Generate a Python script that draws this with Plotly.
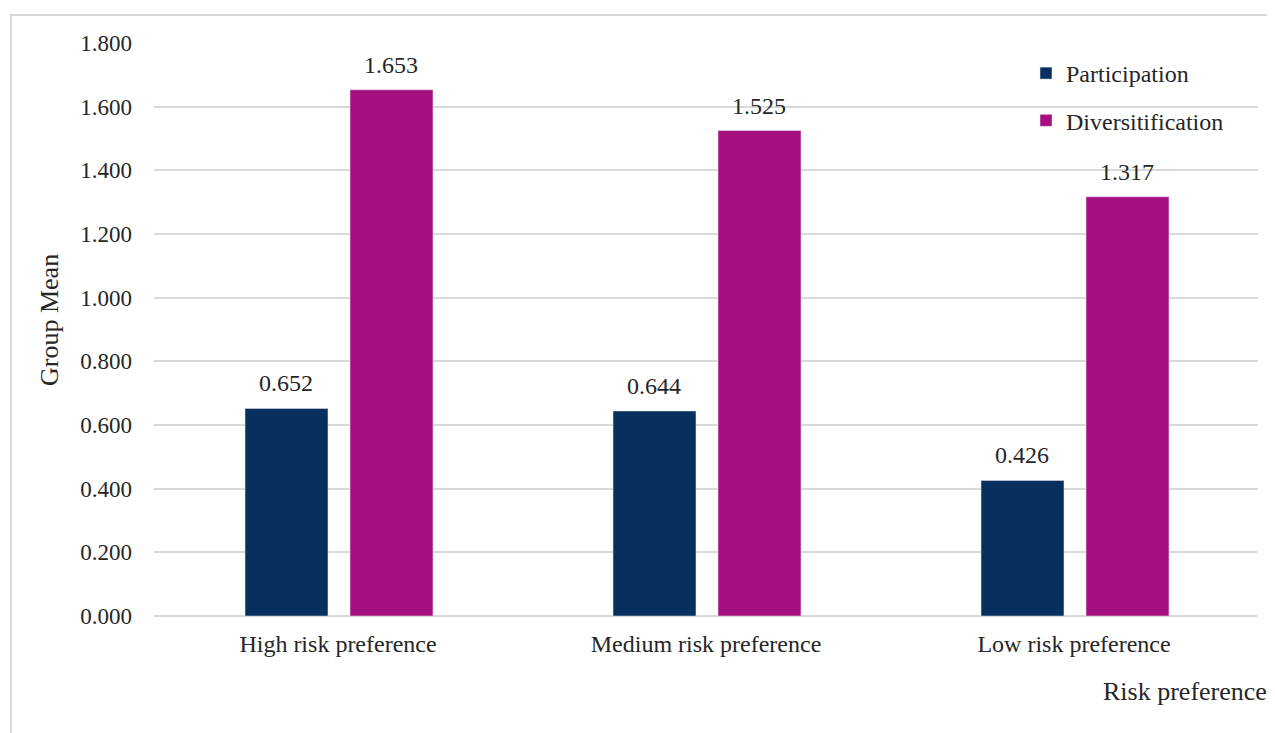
import plotly.graph_objects as go

categories = ["High risk preference", "Medium risk preference", "Low risk preference"]
participation = [0.652, 0.644, 0.426]
diversification = [1.653, 1.525, 1.317]
series_names = ["Participation", "Diversitification"]
y_ticks = [0, 0.2, 0.4, 0.6, 0.8, 1.0, 1.2, 1.4, 1.6, 1.8]

FONT = "Liberation Serif, Times New Roman, serif"
TXT = "#262626"
C1 = "#08305f"
C2 = "#a50f80"

# page body adds an 8px margin; figure sized to compensate
W, H = 1267, 725
L, R, T, B = 146, 17, 35, 117
pw = W - L - R
ph = H - T - B

BW = 0.2255
OFF1, OFF2 = -0.2527, 0.0326

fig = go.Figure()
fig.add_trace(go.Bar(
    x=categories, y=participation, name=series_names[0],
    marker_color=C1, width=BW, offset=OFF1, legendgroup="a",
))
fig.add_trace(go.Bar(
    x=categories, y=diversification, name=series_names[1],
    marker_color=C2, width=BW, offset=OFF2, legendgroup="b",
))

annotations = []
px_per_unit = pw / 3.0
for vals, off in ((participation, OFF1), (diversification, OFF2)):
    for c, v in zip(categories, vals):
        annotations.append(dict(
            x=c, y=v, xref="x", yref="y", text=f"{v:.3f}", showarrow=False,
            xshift=(off + BW / 2) * px_per_unit, yshift=25,
            xanchor="center", yanchor="middle",
            font=dict(size=24, color=TXT, family=FONT),
        ))

annotations += [
    dict(text="Group Mean", xref="paper", yref="paper",
         x=(41 - L) / pw, y=(608 - 312) / ph, textangle=-90, showarrow=False,
         font=dict(size=26), xanchor="center", yanchor="middle"),
    dict(text="Risk preference", xref="paper", yref="paper",
         x=(1177 - L) / pw, y=(608 - 683) / ph, showarrow=False,
         font=dict(size=26), xanchor="center", yanchor="middle"),
]

fig.update_layout(
    width=W, height=H,
    margin=dict(l=L, r=R, t=T, b=B, autoexpand=False),
    paper_bgcolor="white", plot_bgcolor="white",
    font=dict(family=FONT, size=24, color=TXT),
    showlegend=True,
    legend=dict(x=(1018 - L) / pw, y=(608 - 43) / ph, xanchor="left", yanchor="top",
                bgcolor="rgba(0,0,0,0)", font=dict(size=24, color=TXT),
                tracegroupgap=13, traceorder="grouped", itemwidth=30),
    xaxis=dict(type="category", range=[-0.5, 2.5], showgrid=False, showline=False,
               ticks="", ticklabelstandoff=11, tickfont=dict(size=24)),
    yaxis=dict(range=[0, 1.8], tickvals=y_ticks, tickformat=".3f",
               showgrid=True, gridcolor="#d9d9d9", gridwidth=1.5,
               zeroline=True, zerolinecolor="#d9d9d9", zerolinewidth=1.5,
               showline=False, ticks="", ticklabelstandoff=21, tickfont=dict(size=23)),
    annotations=annotations,
    shapes=[
        dict(type="rect", xref="paper", yref="paper",
             x0=(3 - L) / pw, x1=1.3, y0=-0.4, y1=(608 - 7) / ph,
             line=dict(color="#d9d9d9", width=2), fillcolor="rgba(0,0,0,0)", layer="below"),
    ],
)

fig.write_html("out.html")
